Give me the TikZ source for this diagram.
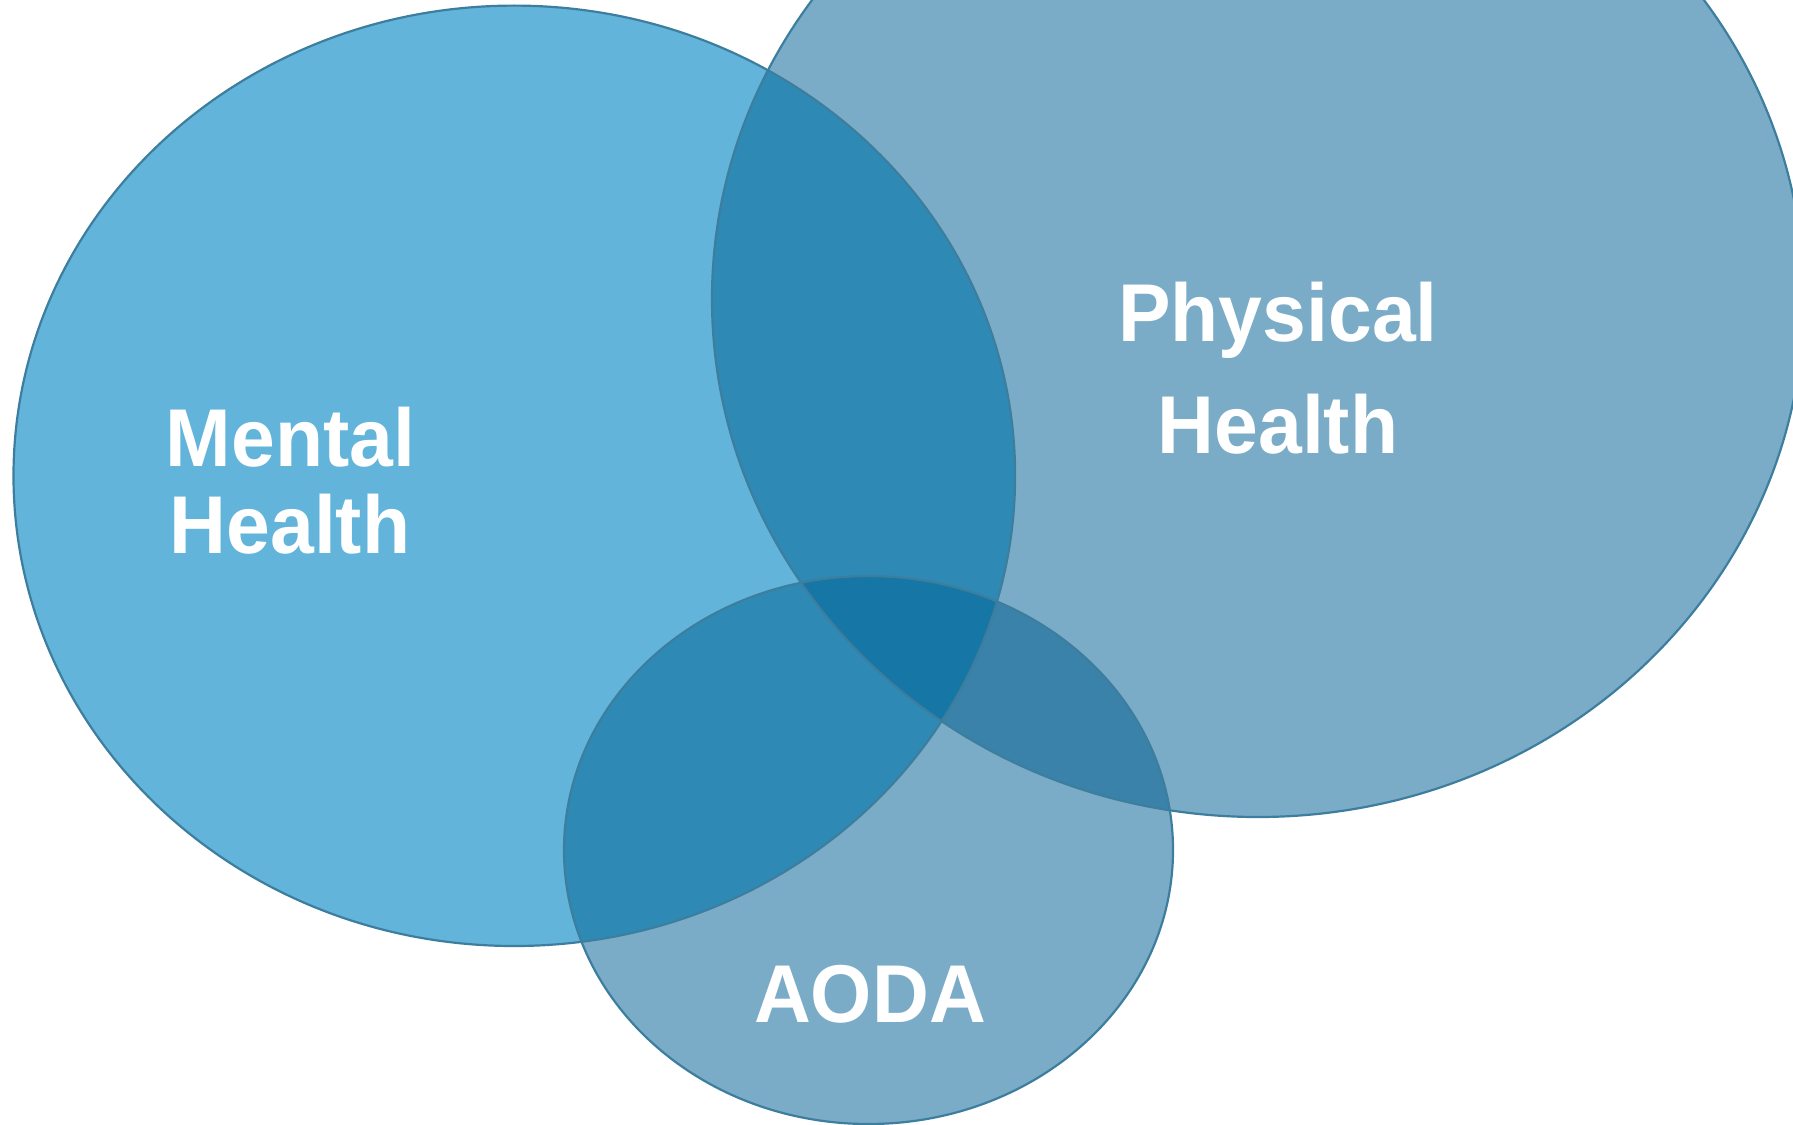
\documentclass[tikz,border=0pt]{standalone}
\usepackage{fontspec}
\newfontfamily\lab{Liberation Sans}[FakeStretch=0.96]
\definecolor{mcol}{HTML}{62B4DA}
\definecolor{pcol}{HTML}{7AACC8}
\definecolor{mpcol}{HTML}{2E8AB4}
\definecolor{pacol}{HTML}{3A82A9}
\definecolor{allcol}{HTML}{1676A5}
\definecolor{edge}{HTML}{3D7E9E}
\tikzset{
  labtext/.style={text=white, font=\lab\bfseries\fontsize{82}{90}\selectfont, anchor=base, inner sep=0pt},
  outline/.style={draw=edge, line width=2.2pt}
}
\newcommand{\mentalE}{(514.3,475.8) ellipse [x radius=500.8pt, y radius=470.2pt]}
\newcommand{\physE}{(1258,299) ellipse [x radius=546pt, y radius=518pt]}
\newcommand{\aodaE}{(868.5,850) ellipse [x radius=304.5pt, y radius=274pt]}
\begin{document}
\begin{tikzpicture}[x=1pt,y=-1pt]
\useasboundingbox (0,0) rectangle (1793,1124);
\begin{scope}
\clip (0,0) rectangle (1793,1124);
% base fills
\fill[mcol] \mentalE;
\fill[pcol] \physE;
\fill[pcol] \aodaE;
% pairwise overlaps
\begin{scope}
  \clip \mentalE;
  \fill[mpcol] \physE;
  \fill[mpcol] \aodaE;
\end{scope}
\begin{scope}
  \clip \physE;
  \fill[pacol] \aodaE;
\end{scope}
% triple overlap
\begin{scope}
  \clip \mentalE;
  \clip \physE;
  \fill[allcol] \aodaE;
\end{scope}
% outlines
\draw[outline] \mentalE;
\draw[outline] \physE;
\draw[outline] \aodaE;
\end{scope}
% labels
\node[labtext] (m1) at (290.5,466) {Mental};
\node[labtext] (m2) at (290,553) {Health};
\node[labtext] (p1) at (1278,341.7) {Physical};
\node[labtext] (p2) at (1278,453.3) {Health};
\node[labtext] (a1) at (870,1022.7) {AODA};
\end{tikzpicture}
\end{document}
